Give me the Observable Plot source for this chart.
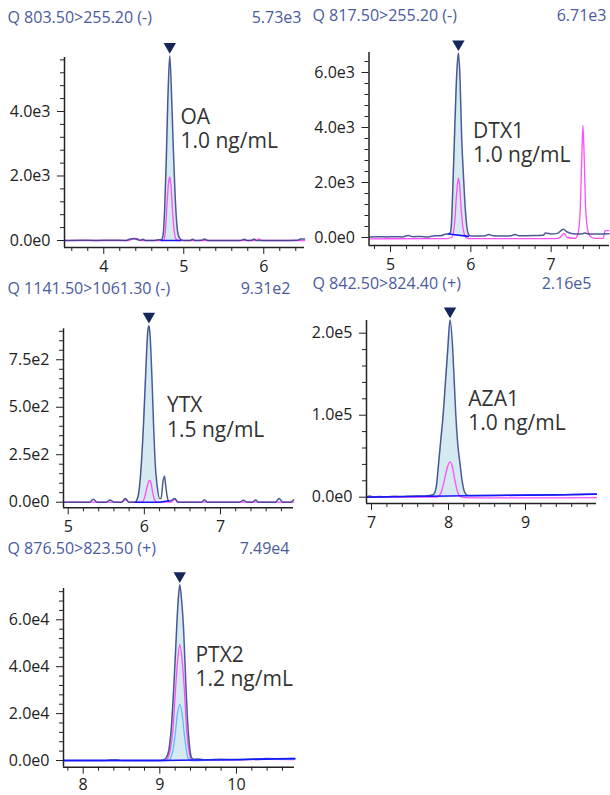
<!DOCTYPE html>
<html><head><meta charset="utf-8">
<script src="https://cdn.jsdelivr.net/npm/d3@7"></script>
<script src="https://cdn.jsdelivr.net/npm/@observablehq/plot@0.6"></script>
<style>
body{margin:0;background:#fff;}
#wrap{position:relative;width:610px;height:795px;font-family:"Open Sans",sans-serif;}
.panel{position:absolute;}
</style></head><body><div id="wrap"></div>
<script>
// ---------- labels ----------
const compounds = ["OA","DTX1","YTX","AZA1","PTX2"];
const concLabels = ["1.0 ng/mL","1.0 ng/mL","1.5 ng/mL","1.0 ng/mL","1.2 ng/mL"];
const transitions = ["Q 803.50>255.20 (-)","Q 817.50>255.20 (-)","Q 1141.50>1061.30 (-)","Q 842.50>824.40 (+)","Q 876.50>823.50 (+)"];
const maxLabels = ["5.73e3","6.71e3","9.31e2","2.16e5","7.49e4"];

// ---------- OA ----------
const oaMain = [[3.51,0],[3.7,10],[3.9,0],[4.1,10],[4.28,0],[4.33,50],[4.38,60],[4.42,30],[4.45,0],[4.49,40],[4.52,0],[4.62,0],[4.68,20],[4.72,20],[4.74,150],[4.76,900],[4.78,2400],[4.80,4300],[4.825,5730],[4.85,4300],[4.87,2800],[4.89,1500],[4.91,600],[4.93,180],[4.96,40],[5.0,0],[5.08,0],[5.11,40],[5.14,0],[5.22,10],[5.26,50],[5.30,0],[5.7,0],[5.76,40],[5.79,0],[5.85,10],[5.88,50],[5.91,0],[6.2,0],[6.42,10],[6.46,50],[6.51,50]];
const oaQual = [[3.51,0],[4.3,0],[4.36,40],[4.42,60],[4.47,0],[4.72,0],[4.75,20],[4.77,300],[4.79,1100],[4.81,1800],[4.825,1970],[4.84,1700],[4.86,900],[4.88,300],[4.90,60],[4.93,0],[5.9,0],[5.94,50],[5.98,0],[6.51,0]];
const oaBase = [[4.72,0],[4.96,0]];
const oaWindow = [4.72,4.96];
const oaXTicks = [4,5,6];
const oaXMinor = [3.6,3.8,4.2,4.4,4.6,4.8,5.2,5.4,5.6,5.8,6.2,6.4];
const oaYTicks = [0,2000,4000];
const oaYLabels = ["0.0e0","2.0e3","4.0e3"];
const oaYMinor = [400,800,1200,1600,2400,2800,3200,3600,4400,4800,5200,5600];

// ---------- DTX1 ----------
const dtxMain = [[4.74,20],[4.85,30],[4.95,20],[5.05,30],[5.15,20],[5.22,70],[5.28,30],[5.38,40],[5.45,20],[5.55,60],[5.62,60],[5.68,120],[5.72,130],[5.745,180],[5.76,600],[5.78,2200],[5.80,4000],[5.825,6000],[5.845,6710],[5.865,5800],[5.885,3700],[5.905,2400],[5.925,1300],[5.95,400],[5.97,120],[6.0,50],[6.1,50],[6.18,60],[6.22,110],[6.28,60],[6.4,50],[6.5,60],[6.55,110],[6.6,60],[6.8,70],[6.9,80],[6.93,160],[7.0,130],[7.08,150],[7.15,300],[7.2,200],[7.3,130],[7.38,130],[7.42,160],[7.46,130],[7.55,130],[7.72,140]];
const dtxQual = [[4.74,-50],[5.5,-40],[5.7,-40],[5.76,0],[5.78,150],[5.80,600],[5.82,1500],[5.845,2170],[5.86,1900],[5.88,1000],[5.90,400],[5.92,100],[5.95,-20],[6.0,-40],[7.0,-40],[7.1,-20],[7.16,150],[7.2,0],[7.3,-30],[7.33,100],[7.36,900],[7.38,2800],[7.395,4070],[7.41,3000],[7.43,1000],[7.46,200],[7.49,30],[7.55,-30],[7.65,-30],[7.67,250],[7.72,250]];
const dtxBase = [[5.72,130],[5.97,40]];
const dtxWindow = [5.72,5.97];
const dtxXTicks = [5,6,7];
const dtxXMinor = [4.8,5.2,5.4,5.6,5.8,6.2,6.4,6.6,6.8,7.2,7.4,7.6];
const dtxYTicks = [0,2000,4000,6000];
const dtxYLabels = ["0.0e0","2.0e3","4.0e3","6.0e3"];
const dtxYMinor = [400,800,1200,1600,2400,2800,3200,3600,4400,4800,5200,5600,6400];

// ---------- YTX ----------
const ytxMain = [[4.94,0],[5.28,0],[5.33,15],[5.38,0],[5.5,0],[5.55,12],[5.6,0],[5.7,0],[5.75,20],[5.8,0],[5.88,0],[5.90,10],[5.93,60],[5.96,200],[5.99,420],[6.02,700],[6.045,900],[6.06,931],[6.075,880],[6.10,650],[6.12,420],[6.14,220],[6.17,80],[6.20,20],[6.22,20],[6.245,110],[6.265,136],[6.28,90],[6.30,30],[6.32,5],[6.36,10],[6.40,20],[6.44,0],[6.75,0],[6.79,12],[6.83,0],[7.25,0],[7.3,10],[7.35,0],[7.42,0],[7.46,12],[7.5,0],[7.72,0],[7.77,20],[7.82,0],[7.92,0],[7.96,12]];
const ytxQual = [[4.94,0],[5.7,0],[5.75,12],[5.8,0],[5.97,0],[6.00,20],[6.03,70],[6.06,112],[6.075,115],[6.09,95],[6.11,50],[6.13,15],[6.16,0],[6.35,0],[6.40,15],[6.45,0],[7.96,0]];
const ytxBase = [[5.88,0],[6.20,0],[6.32,8]];
const ytxWindow = [5.88,6.20];
const ytxXTicks = [5,6,7];
const ytxXMinor = [5.2,5.4,5.6,5.8,6.2,6.4,6.6,6.8,7.2,7.4,7.6,7.8];
const ytxYTicks = [0,250,500,750];
const ytxYLabels = ["0.0e0","2.5e2","5.0e2","7.5e2"];
const ytxYMinor = [50,100,150,200,300,350,400,450,550,600,650,700,800,850,900];

// ---------- AZA1 ----------
const azaMain = [[6.94,500],[6.98,1500],[7.02,600],[7.1,800],[7.2,600],[7.3,1200],[7.4,800],[7.5,1200],[7.6,1400],[7.7,1600],[7.75,2000],[7.80,3000],[7.84,12000],[7.87,40000],[7.90,70000],[7.93,100000],[7.96,140000],[7.99,180000],[8.02,216000],[8.055,180000],[8.075,140000],[8.095,100000],[8.12,65000],[8.15,40000],[8.18,18000],[8.21,6000],[8.245,2500],[8.3,2000],[8.6,2200],[9.0,2500],[9.4,2800],[9.7,3300],[9.92,3700]];
const azaQual = [[6.94,0],[7.5,0],[7.85,200],[7.90,5000],[7.94,18000],[7.98,35000],[8.02,43000],[8.05,37000],[8.08,22000],[8.11,9000],[8.14,2000],[8.17,0],[8.3,-800],[9.0,-800],[9.5,-800],[9.92,-500]];
const azaBase = [[6.94,0],[7.5,800],[8.0,1500],[8.5,2000],[9.0,2500],[9.5,3000],[9.92,3800]];
const azaWindow = [7.75,8.30];
const azaXTicks = [7,8,9];
const azaXMinor = [7.2,7.4,7.6,7.8,8.2,8.4,8.6,8.8,9.2,9.4,9.6,9.8];
const azaYTicks = [0,100000,200000];
const azaYLabels = ["0.0e0","1.0e5","2.0e5"];
const azaYMinor = [20000,40000,60000,80000,120000,140000,160000,180000];

// ---------- PTX2 ----------
const ptxMain = [[7.74,0],[8.3,0],[8.35,300],[8.45,300],[8.5,0],[9.0,0],[9.06,500],[9.09,1500],[9.12,5000],[9.15,14000],[9.18,30000],[9.21,50000],[9.235,66000],[9.26,74900],[9.285,68000],[9.31,56000],[9.335,36000],[9.36,18000],[9.385,7000],[9.41,1500],[9.44,500],[9.5,600],[9.6,300],[9.8,500],[10.0,400],[10.2,600],[10.4,800],[10.6,700],[10.76,800]];
const ptxQual = [[7.74,0],[9.08,0],[9.11,1500],[9.14,5000],[9.17,13000],[9.20,28000],[9.23,42000],[9.26,49400],[9.29,43000],[9.32,30000],[9.35,13000],[9.38,4000],[9.41,500],[9.44,0],[9.7,200],[10.0,300],[10.4,500],[10.76,400]];
const ptxQual2 = [[7.74,0],[9.11,0],[9.14,1000],[9.17,4000],[9.20,11000],[9.23,20000],[9.26,23800],[9.29,20000],[9.32,11000],[9.35,3500],[9.38,500],[9.41,0],[9.7,300],[10.2,500],[10.76,600]];
const ptxBase = [[7.74,0],[9.0,0],[9.5,200],[10.0,300],[10.5,700],[10.76,800]];
const ptxWindow = [9.06,9.44];
const ptxXTicks = [8,9,10];
const ptxXMinor = [7.8,8.2,8.4,8.6,8.8,9.2,9.4,9.6,9.8,10.2,10.4,10.6];
const ptxYTicks = [0,20000,40000,60000];
const ptxYLabels = ["0.0e0","2.0e4","4.0e4","6.0e4"];
const ptxYMinor = [4000,8000,12000,16000,24000,28000,32000,36000,44000,48000,52000,56000,64000,68000,72000];

// ---------- styling / layout ----------
const NAVY = "#2d3e82", PINK = "#ff4cff", BLUE = "#1616ff", CYAN = "#62b8ff",
      FILL = "#d6eaf2", TRI = "#13275b", HEAD = "#4a5b9e", INK = "#222";

const panels = [
  {main: oaMain, qual: oaQual, base: oaBase, win: oaWindow, xt: oaXTicks, xm: oaXMinor, yt: oaYTicks, yl: oaYLabels, ym: oaYMinor,
   left: 0, top: 0, height: 280, ml: 64, mr: 1, mt: 57, mb: 33, xd: [3.509, 6.509], yd: [-217, 5674], headY: 17.5, headR: 301, dx: 10.7, dy: 50.8, pad: 6},
  {main: dtxMain, qual: dtxQual, base: dtxBase, win: dtxWindow, xt: dtxXTicks, xm: dtxXMinor, yt: dtxYTicks, yl: dtxYLabels, ym: dtxYMinor,
   left: 305, top: 0, height: 280, ml: 63.5, mr: 1, mt: 52, mb: 35, xd: [4.732, 7.726], yd: [-291, 6727], headY: 15.8, headR: 301, dx: 14.7, dy: 67.5, pad: 6},
  {main: ytxMain, qual: ytxQual, base: ytxBase, win: ytxWindow, xt: ytxXTicks, xm: ytxXMinor, yt: ytxYTicks, yl: ytxYLabels, ym: ytxYMinor,
   left: 0, top: 270, height: 280, ml: 63, mr: 12, mt: 58.3, mb: 42.7, xd: [4.938, 7.959], yd: [-29.5, 913], headY: 18.3, headR: 290, dx: 18, dy: 69.6, pad: 6},
  {main: azaMain, qual: azaQual, base: azaBase, win: azaWindow, xt: azaXTicks, xm: azaXMinor, yt: azaYTicks, yl: azaYLabels, ym: azaYMinor,
   left: 305, top: 270, height: 280, ml: 61, mr: 14, mt: 50, mb: 47, xd: [6.935, 9.922], yd: [-7683, 215488], headY: 13.7, headR: 286, dx: 18.3, dy: 68.7, pad: 6},
  {main: ptxMain, qual: ptxQual, qual2: ptxQual2, base: ptxBase, win: ptxWindow, xt: ptxXTicks, xm: ptxXMinor, yt: ptxYTicks, yl: ptxYLabels, ym: ptxYMinor,
   left: 0, top: 540, height: 255, ml: 63, mr: 11, mt: 48, mb: 28.3, xd: [7.743, 10.757], yd: [-2857, 73348], headY: 8.8, headR: 289, dx: 15.7, dy: 59.6, pad: 4}
];

const wrap = document.getElementById("wrap");
const X = d => d[0], Y = d => d[1];

panels.forEach((p, i) => {
  const W = 305;
  const apex = d3.greatest(p.main, Y);
  const baseFn = d3.scaleLinear().domain(p.base.map(X)).range(p.base.map(Y));
  const fillData = p.main.filter(d => d[0] >= p.win[0] && d[0] <= p.win[1]);
  const marks = [
    Plot.areaY(fillData, {x: X, y1: d => baseFn(d[0]), y2: Y, fill: FILL, curve: "monotone-x"}),
    Plot.line(p.qual, {x: X, y: Y, stroke: PINK, strokeWidth: 1.3, curve: "monotone-x"}),
    Plot.line(p.main, {x: X, y: Y, stroke: NAVY, strokeWidth: 1.5, strokeOpacity: 0.85, curve: "monotone-x"}),
  ];
  if (p.qual2) marks.push(Plot.line(p.qual2, {x: X, y: Y, stroke: CYAN, strokeWidth: 1.3, curve: "monotone-x"}));
  marks.push(
    Plot.line(p.base, {x: X, y: Y, stroke: BLUE, strokeWidth: 1.6}),
    Plot.ruleX([p.xd[0]], {stroke: INK, strokeWidth: 1.5}),
    Plot.ruleY([p.yd[0]], {stroke: INK, strokeWidth: 1.5}),
    Plot.axisY(p.yt, {tickSize: 7, tickPadding: 7, stroke: INK, fill: INK, fontSize: 16, label: null,
      tickFormat: d => p.yl[p.yt.indexOf(d)]}),
    Plot.axisY(p.ym, {tickSize: 4, stroke: INK, fill: "none", label: null}),
    Plot.axisX(p.xt, {tickSize: 7, tickPadding: p.pad, stroke: INK, fill: INK, fontSize: 16, label: null,
      tickFormat: d => String(d)}),
    Plot.axisX(p.xm, {tickSize: 4, stroke: INK, fill: "none", label: null}),
    Plot.dot([apex], {x: X, y: Y, symbol: "triangle", rotate: 180, r: 4.6, fill: TRI, stroke: "none", dy: -9}),
    Plot.text([apex], {x: X, y: Y, text: () => compounds[i] + "\n" + concLabels[i], dx: p.dx, dy: p.dy,
      textAnchor: "start", lineAnchor: "top", fontSize: 21, lineHeight: 1.16, fill: "#333"}),
    Plot.text([transitions[i]], {text: d => d, frameAnchor: "top-left", dx: 7 - p.ml, dy: p.headY - p.mt,
      textAnchor: "start", lineAnchor: "middle", fill: HEAD, fontSize: 16}),
    Plot.text([maxLabels[i]], {text: d => d, frameAnchor: "top-right", dx: p.headR - (W - p.mr), dy: p.headY - p.mt,
      textAnchor: "end", lineAnchor: "middle", fill: HEAD, fontSize: 16})
  );
  const svg = Plot.plot({
    width: W, height: p.height,
    marginLeft: p.ml, marginRight: p.mr, marginTop: p.mt, marginBottom: p.mb,
    x: {domain: p.xd}, y: {domain: p.yd},
    style: {background: "transparent", overflow: "visible", fontFamily: "'Open Sans', sans-serif", fontSize: "16px", color: INK},
    marks
  });
  const div = document.createElement("div");
  div.className = "panel";
  div.style.left = p.left + "px";
  div.style.top = p.top + "px";
  div.appendChild(svg);
  wrap.appendChild(div);
});
</script>
</body></html>
